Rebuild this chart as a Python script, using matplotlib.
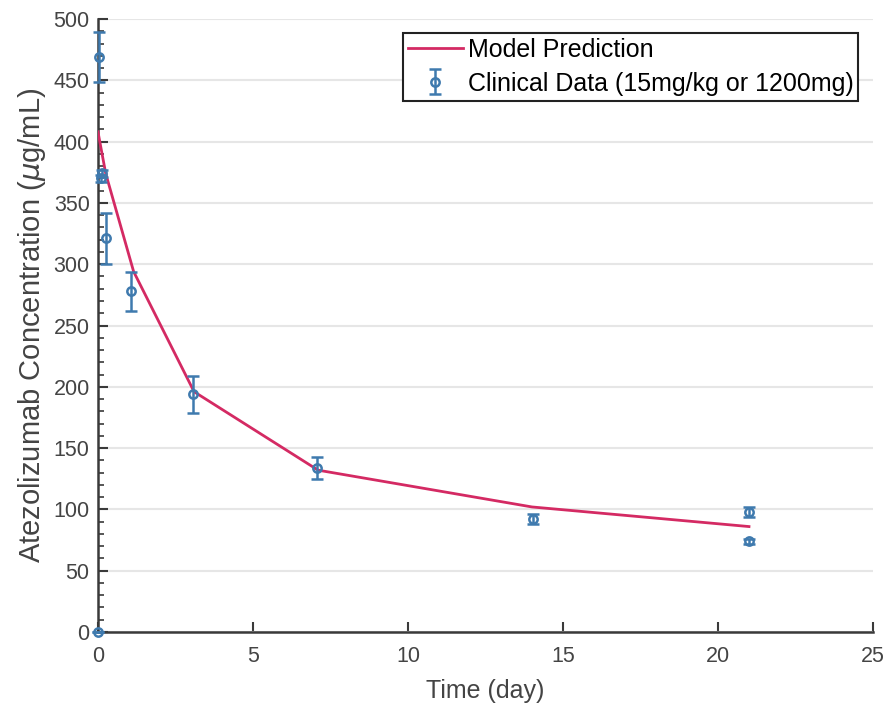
import matplotlib
matplotlib.use("Agg")
import matplotlib.pyplot as plt
from matplotlib.ticker import MultipleLocator

# Model prediction
model_t = [0, 0.25, 1.15, 3.1, 7.1, 14.0, 21.0]
model_c = [408, 374, 294, 196, 132, 102, 86]

# Clinical data
data_t = [0.0, 0.04, 0.1, 0.13, 0.25, 1.08, 3.08, 7.05, 14.03, 21.0, 21.0]
data_c = [0, 469, 370, 374, 321, 278, 194, 134, 92, 98, 74]
data_err = [0, 20, 3, 3, 21, 16, 15, 9, 4, 4, 2]

plt.rcParams['font.family'] = ['Liberation Sans', 'DejaVu Sans']

fig = plt.figure(figsize=(8.93, 7.09), dpi=100)
ax = fig.add_axes([0.1097, 0.1086, 0.8679, 0.8646])

line_col = '#D42A63'
dot_col = '#3F7AAE'

ax.plot(model_t, model_c, color=line_col, lw=2, label='Model Prediction', zorder=3)
ax.errorbar(data_t, data_c, yerr=data_err, fmt='o', mfc='none', mec=dot_col,
            ecolor=dot_col, ms=6, mew=1.8, elinewidth=1.8, capsize=4.3, capthick=1.8,
            label='Clinical Data (15mg/kg or 1200mg)', zorder=4, clip_on=False)

ax.set_xlim(0, 25)
ax.set_ylim(0, 500)
ax.xaxis.set_major_locator(MultipleLocator(5))
ax.yaxis.set_major_locator(MultipleLocator(50))
ax.yaxis.set_minor_locator(MultipleLocator(10))
ax.grid(axis='y', color='#E6E6E6', lw=1.5)
ax.set_axisbelow(True)

for s in ['top', 'right']:
    ax.spines[s].set_visible(False)
for s in ['left', 'bottom']:
    ax.spines[s].set_color('#3A3A3A')
    ax.spines[s].set_linewidth(1.8)

ax.tick_params(axis='both', which='major', direction='in', length=7, width=1.5,
               colors='#3A3A3A', labelsize=15.5, labelcolor='#444444')
ax.tick_params(axis='y', which='major', pad=6)
ax.tick_params(axis='x', which='major', pad=10)
ax.tick_params(axis='y', which='minor', direction='in', length=4, width=1.2, colors='#3A3A3A')

ax.set_xlabel('Time (day)', fontsize=18, color='#444444', labelpad=9)
ax.set_ylabel(r'Atezolizumab Concentration ($\mu$g/mL)', fontsize=21, color='#444444', labelpad=4)

leg = ax.legend(loc='upper right', bbox_to_anchor=(0.981, 0.977), fontsize=18,
                frameon=True, fancybox=False, edgecolor='#222222', framealpha=1,
                borderpad=0.2, handlelength=2.2, handletextpad=0.2, labelspacing=0.38,
                borderaxespad=0)
leg.get_frame().set_linewidth(1.5)

fig.savefig('out.png', dpi=100)
